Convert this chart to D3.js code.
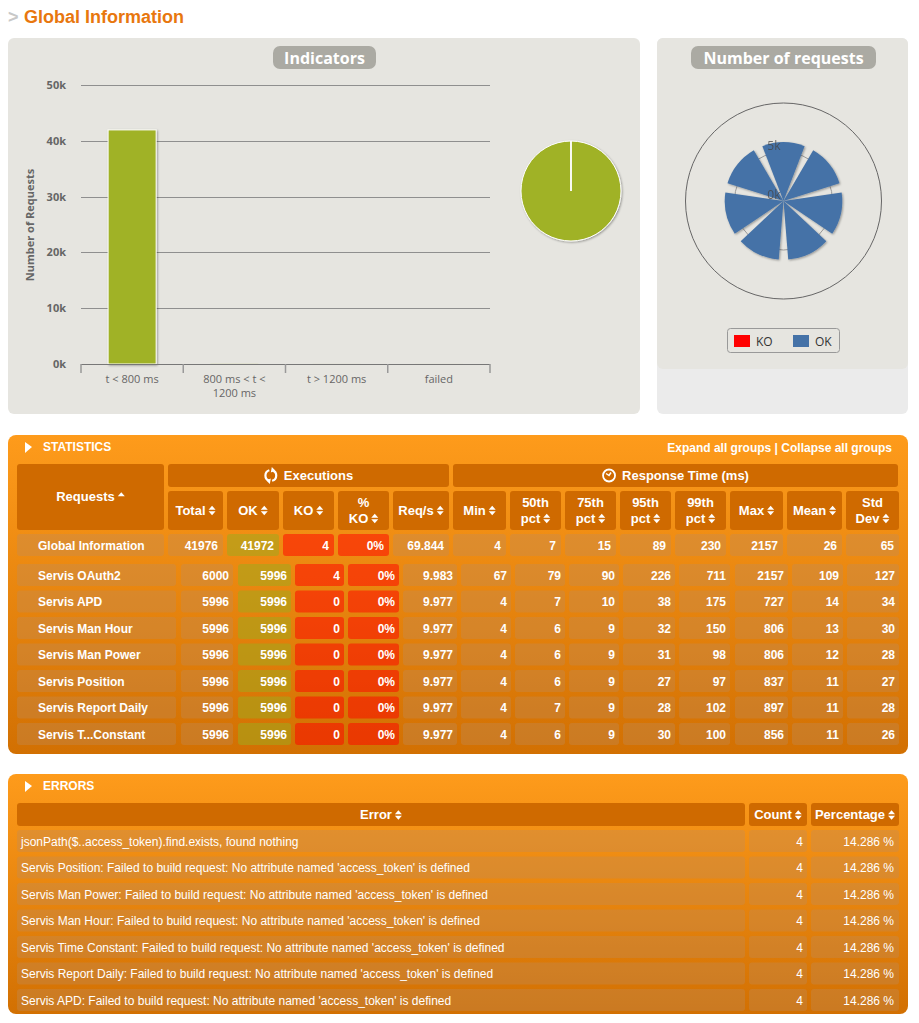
<!DOCTYPE html>
<html>
<head>
<meta charset="utf-8">
<script src="https://cdn.jsdelivr.net/npm/d3@7"></script>
<style>
  body { margin: 0; background: #fff; }
  svg { display: block; }
</style>
</head>
<body>
<div id="page"></div>
<script>
// ---------- data ----------
var responseCategories = ["t < 800 ms", "800 ms < t < 1200 ms", "t > 1200 ms", "failed"];
var responseCounts = [41955, 12, 5, 4];
var pieLabels = ["OK", "KO"];
var pieCounts = [41972, 4];
var barTicks = [0, 10000, 20000, 30000, 40000, 50000];
var polarTicks = [0, 5000];

var requestNames = ["Servis OAuth2", "Servis APD", "Servis Man Hour", "Servis Man Power",
  "Servis Position", "Servis Report Daily", "Servis T...Constant"];
var totals = [6000, 5996, 5996, 5996, 5996, 5996, 5996];
var okCounts = [5996, 5996, 5996, 5996, 5996, 5996, 5996];
var koCounts = [4, 0, 0, 0, 0, 0, 0];
var koPct = ["0%", "0%", "0%", "0%", "0%", "0%", "0%"];
var reqPerSec = ["9.983", "9.977", "9.977", "9.977", "9.977", "9.977", "9.977"];
var minRt = [67, 4, 4, 4, 4, 4, 4];
var p50 = [79, 7, 6, 6, 6, 7, 6];
var p75 = [90, 10, 9, 9, 9, 9, 9];
var p95 = [226, 38, 32, 31, 27, 28, 30];
var p99 = [711, 175, 150, 98, 97, 102, 100];
var maxRt = [2157, 727, 806, 806, 837, 897, 856];
var meanRt = [109, 14, 13, 12, 11, 11, 11];
var stdDev = [127, 34, 30, 28, 27, 28, 26];

var globalName = "Global Information";
var globalRow = [41976, 41972, 4, "0%", "69.844", 4, 7, 15, 89, 230, 2157, 26, 65];

var execHeaders = [["Total"], ["OK"], ["KO"], ["%", "KO"], ["Req/s"]];
var rtHeaders = [["Min"], ["50th", "pct"], ["75th", "pct"], ["95th", "pct"], ["99th", "pct"],
  ["Max"], ["Mean"], ["Std", "Dev"]];

var errorMessages = [
  "jsonPath($..access_token).find.exists, found nothing",
  "Servis Position: Failed to build request: No attribute named 'access_token' is defined",
  "Servis Man Power: Failed to build request: No attribute named 'access_token' is defined",
  "Servis Man Hour: Failed to build request: No attribute named 'access_token' is defined",
  "Servis Time Constant: Failed to build request: No attribute named 'access_token' is defined",
  "Servis Report Daily: Failed to build request: No attribute named 'access_token' is defined",
  "Servis APD: Failed to build request: No attribute named 'access_token' is defined"
];
var errorCounts = [4, 4, 4, 4, 4, 4, 4];
var errorPct = ["14.286 %", "14.286 %", "14.286 %", "14.286 %", "14.286 %", "14.286 %", "14.286 %"];

// ---------- layout ----------
var green = "#a0b228", red = "#ff0000", blue = "#4572a7";
var chartFont = "'Open Sans', 'DejaVu Sans', sans-serif";
var tableFont = "Arial, 'Liberation Sans', Helvetica, sans-serif";

// column edges of the header / global row, and of the request rows
var headCols = [[168,223],[227,279],[283,334],[338,389],[393,449],[453,506],[510,561],
  [565,616],[620,671],[675,726],[730,783],[787,842],[846,899]];
var rowCols = [[181,233],[238,291],[295,344],[348,399],[403,457],[461,511],[515,565],
  [569,619],[623,675],[679,730],[735,788],[792,843],[847,899]];

var svg = d3.select("#page").append("svg")
    .attr("width", 919)
    .attr("height", 1023)
    .style("font-family", tableFont);

var defs = svg.append("defs");
var shadow = defs.append("filter").attr("id", "shadow")
    .attr("x", "-20%").attr("y", "-20%").attr("width", "140%").attr("height", "140%");
shadow.append("feDropShadow").attr("dx", 1).attr("dy", 1).attr("stdDeviation", 1.2)
    .attr("flood-color", "#000").attr("flood-opacity", 0.35);

var grad = defs.append("linearGradient").attr("id", "orange")
    .attr("x1", 0).attr("y1", 0).attr("x2", 0).attr("y2", 1);
grad.append("stop").attr("offset", "0%").attr("stop-color", "#fe9b1b");
grad.append("stop").attr("offset", "100%").attr("stop-color", "#d27002");

// ---------- page title ----------
svg.append("text").attr("x", 8).attr("y", 23)
    .attr("font-size", 18).attr("font-weight", "bold").attr("fill", "#c8c8c8").text(">");
svg.append("text").attr("x", 24).attr("y", 23)
    .attr("font-size", 18).attr("font-weight", "bold").attr("fill", "#e8770e").text("Global Information");

// ---------- chart panels ----------
svg.append("rect").attr("x", 8).attr("y", 38).attr("width", 632).attr("height", 376)
    .attr("rx", 6).attr("fill", "#e6e5e0");
svg.append("rect").attr("x", 657).attr("y", 38).attr("width", 251).attr("height", 376)
    .attr("rx", 6).attr("fill", "#ebebeb");
svg.append("rect").attr("x", 657).attr("y", 38).attr("width", 251).attr("height", 331)
    .attr("rx", 6).attr("fill", "#e6e5e0");

function pill(cx, x0, x1, label) {
  svg.append("rect").attr("x", x0).attr("y", 46).attr("width", x1 - x0).attr("height", 23)
      .attr("rx", 7).attr("fill", "#abaaa3");
  svg.append("text").attr("x", cx).attr("y", 63.5).attr("text-anchor", "middle")
      .attr("font-family", chartFont).attr("font-size", 16).attr("font-weight", "bold")
      .attr("fill", "#fff").text(label);
}
pill(324.5, 273, 376, "Indicators");
pill(783.5, 691, 876, "Number of requests");

// ---------- indicators bar chart ----------
var x = d3.scaleBand().domain(responseCategories).range([81, 490]);
var y = d3.scaleLinear().domain([0, 50000]).range([364, 85]);

var bars = svg.append("g").style("font-family", chartFont);

bars.selectAll(".grid")
  .data(barTicks.filter(function(d) { return d > 0; }))
  .join("line")
    .attr("x1", 81).attr("x2", 490)
    .attr("y1", function(d) { return Math.round(y(d)) + 0.5; })
    .attr("y2", function(d) { return Math.round(y(d)) + 0.5; })
    .attr("stroke", "#8f8f8f").attr("stroke-width", 1);

var yAxis = bars.append("g")
    .attr("transform", "translate(72,0)")
    .call(d3.axisLeft(y).tickValues(barTicks).tickSize(0).tickPadding(6)
      .tickFormat(function(d) { return d / 1000 + "k"; }));
yAxis.select(".domain").remove();
yAxis.selectAll("text").attr("font-family", chartFont).attr("font-size", 11)
    .attr("font-weight", "bold").attr("fill", "#666");

bars.append("text")
    .attr("transform", "translate(34,225) rotate(-90)")
    .attr("text-anchor", "middle").attr("font-size", 11).attr("font-weight", "bold")
    .attr("fill", "#666").text("Number of Requests");

bars.selectAll(".bar")
  .data(responseCategories)
  .join("rect")
    .attr("x", function(d) { return x(d) + x.bandwidth() * 0.265; })
    .attr("width", x.bandwidth() * 0.47)
    .attr("y", function(d, i) { return y(responseCounts[i]); })
    .attr("height", function(d, i) { return y(0) - y(responseCounts[i]); })
    .attr("fill", green)
    .attr("stroke", function(d, i) { return y(0) - y(responseCounts[i]) > 2 ? "#fff" : "none"; })
    .attr("stroke-width", 1)
    .attr("filter", "url(#shadow)");

bars.append("line").attr("x1", 81).attr("x2", 490).attr("y1", 364.5).attr("y2", 364.5)
    .attr("stroke", "#777").attr("stroke-width", 1.2);

var edges = responseCategories.map(function(d) { return x(d); }).concat([x.range()[1]]);
bars.selectAll(".tick-mark")
  .data(edges)
  .join("line")
    .attr("x1", function(d) { return d; }).attr("x2", function(d) { return d; })
    .attr("y1", 364).attr("y2", 373)
    .attr("stroke", "#999").attr("stroke-width", 1.5);

var xAxis = bars.append("g")
    .attr("transform", "translate(0,364)")
    .call(d3.axisBottom(x).tickSize(0).tickPadding(0));
xAxis.select(".domain").remove();
xAxis.selectAll("text")
    .attr("font-family", chartFont).attr("font-size", 11).attr("fill", "#666")
    .attr("y", 19).attr("dy", 0)
    .each(function(d) {
      // wrap long labels on two lines
      var t = d3.select(this), words = d.split(" "), line = [], lineNo = 0;
      t.text(null);
      var ts = t.append("tspan").attr("x", 0).attr("y", 19);
      words.forEach(function(w) {
        line.push(w);
        ts.text(line.join(" "));
        if (ts.node().getComputedTextLength() > x.bandwidth() - 20 && line.length > 1) {
          line.pop();
          ts.text(line.join(" "));
          line = [w];
          lineNo++;
          ts = t.append("tspan").attr("x", 0).attr("y", 19 + lineNo * 14).text(w);
        }
      });
    });

// ---------- indicators pie ----------
var pieArcs = d3.pie().sort(null).value(function(d) { return d; })(pieCounts);
var arc = d3.arc().innerRadius(0).outerRadius(50);
svg.append("g")
    .attr("transform", "translate(571,191)")
    .attr("filter", "url(#shadow)")
  .selectAll("path")
  .data(pieArcs)
  .join("path")
    .attr("d", arc)
    .attr("fill", function(d, i) { return i === 0 ? green : red; })
    .attr("stroke", "#fff").attr("stroke-width", 1);

// ---------- number of requests (polar) ----------
var pcx = 783.5, pcy = 201;
var r = d3.scaleLinear().domain([0, 10000]).range([0, 98]);
var step = 2 * Math.PI / requestNames.length;
var ang = d3.scaleBand().domain(requestNames)
    .range([-step / 2, 2 * Math.PI - step / 2])
    .paddingInner(0.18).paddingOuter(0.09);

var polar = svg.append("g").attr("transform", "translate(" + pcx + "," + pcy + ")")
    .style("font-family", chartFont);

polar.append("circle").attr("r", r(10000)).attr("fill", "none")
    .attr("stroke", "#666").attr("stroke-width", 1);
polar.append("circle").attr("r", r(5000)).attr("fill", "none")
    .attr("stroke", "#999").attr("stroke-width", 1);

var wedge = d3.arc().innerRadius(function(d) { return r(d.y0); })
    .outerRadius(function(d) { return r(d.y1); })
    .startAngle(function(d) { return ang(d.name); })
    .endAngle(function(d) { return ang(d.name) + ang.bandwidth(); });

var okWedges = requestNames.map(function(n, i) { return {name: n, y0: 0, y1: okCounts[i]}; });
var koWedges = requestNames.map(function(n, i) {
  return {name: n, y0: okCounts[i], y1: okCounts[i] + koCounts[i]};
});

polar.append("g").attr("filter", "url(#shadow)")
  .selectAll("path")
  .data(okWedges)
  .join("path")
    .attr("d", wedge)
    .attr("fill", blue);
polar.append("g")
  .selectAll("path")
  .data(koWedges.filter(function(d) { return d.y1 > d.y0; }))
  .join("path")
    .attr("d", wedge)
    .attr("fill", red);

polar.selectAll(".rlabel")
  .data(polarTicks)
  .join("text")
    .attr("x", -3).attr("y", function(d) { return -r(d) - 2; })
    .attr("text-anchor", "end").attr("font-size", 12)
    .attr("fill", "#444").attr("opacity", 0.75)
    .text(function(d) { return d / 1000 + "k"; });

// legend
var legend = svg.append("g").style("font-family", chartFont);
legend.append("rect").attr("x", 727.5).attr("y", 328.5).attr("width", 112).attr("height", 24)
    .attr("rx", 3).attr("fill", "none").attr("stroke", "#999");
var legendItems = [{label: "KO", color: red, x: 734}, {label: "OK", color: blue, x: 793}];
legend.selectAll(".sw").data(legendItems).join("rect")
    .attr("x", function(d) { return d.x; }).attr("y", 335).attr("width", 16).attr("height", 12)
    .attr("fill", function(d) { return d.color; });
legend.selectAll(".lt").data(legendItems).join("text")
    .attr("x", function(d) { return d.x + 22; }).attr("y", 345.5)
    .attr("font-size", 12).attr("fill", "#333")
    .text(function(d) { return d.label; });

// ---------- table helpers ----------
function sortIcon(g, cx, cy, upOnly) {
  var p = "M" + (cx - 3.5) + "," + (cy - 0.8) + "L" + (cx + 3.5) + "," + (cy - 0.8) + "L" + cx + "," + (cy - 4.8) + "Z";
  if (!upOnly) p += "M" + (cx - 3.5) + "," + (cy + 0.8) + "L" + (cx + 3.5) + "," + (cy + 0.8) + "L" + cx + "," + (cy + 4.8) + "Z";
  g.append("path").attr("d", p).attr("fill", "#fff");
}

// centred header label followed by a sort arrow
function headLabel(g, cx, baseline, label, size, upOnly) {
  var t = g.append("text").attr("y", baseline).attr("font-size", size)
      .attr("font-weight", "bold").attr("fill", "#fff").text(label);
  var w = t.node().getComputedTextLength();
  var total = w + 3 + 7;
  t.attr("x", cx - total / 2);
  sortIcon(g, cx - total / 2 + w + 3 + 3.5, baseline - 4, upOnly);
}

function cellFill(col) {
  if (col === 1) return "rgba(160,170,30,0.55)";
  if (col === 2 || col === 3) return "rgba(255,0,0,0.5)";
  return "rgba(190,140,95,0.35)";
}

function panel(y0, h, title) {
  svg.append("rect").attr("x", 8).attr("y", y0).attr("width", 900).attr("height", h)
      .attr("rx", 8).attr("fill", "url(#orange)");
  svg.append("path")
      .attr("d", "M25," + (y0 + 7) + "L32," + (y0 + 12) + "L25," + (y0 + 18) + "Z")
      .attr("fill", "#fff");
  svg.append("text").attr("x", 43).attr("y", y0 + 16).attr("font-size", 12)
      .attr("font-weight", "bold").attr("fill", "#fff").text(title);
}

// ---------- statistics ----------
panel(435, 319, "STATISTICS");
svg.append("text").attr("x", 892).attr("y", 452).attr("text-anchor", "end")
    .attr("font-size", 12).attr("font-weight", "bold").attr("fill", "#fff")
    .text("Expand all groups | Collapse all groups");

var headFill = "#cf6a00";
var stats = svg.append("g");
stats.append("rect").attr("x", 17).attr("y", 464).attr("width", 147).attr("height", 66)
    .attr("rx", 3).attr("fill", headFill);
headLabel(stats, 90.5, 501, "Requests", 13, true);

var groups = [
  {label: "Executions", x0: 168, x1: 449, icon: "refresh"},
  {label: "Response Time (ms)", x0: 453, x1: 898, icon: "clock"}
];
groups.forEach(function(gp) {
  stats.append("rect").attr("x", gp.x0).attr("y", 464).attr("width", gp.x1 - gp.x0)
      .attr("height", 23).attr("rx", 3).attr("fill", headFill);
  var t = stats.append("text").attr("y", 480).attr("font-size", 13).attr("font-weight", "bold")
      .attr("fill", "#fff").text(gp.label);
  var w = t.node().getComputedTextLength();
  var cx = (gp.x0 + gp.x1) / 2, total = w + 20;
  var ix = cx - total / 2 + 7, iy = 475.5;
  t.attr("x", cx - total / 2 + 20);
  if (gp.icon === "clock") {
    stats.append("circle").attr("cx", ix).attr("cy", iy).attr("r", 6)
        .attr("fill", "none").attr("stroke", "#fff").attr("stroke-width", 1.8);
    stats.append("path").attr("d", "M" + (ix - 3) + "," + (iy - 2) + "L" + ix + "," + iy + "L" + (ix + 2) + "," + (iy - 3))
        .attr("fill", "none").attr("stroke", "#fff").attr("stroke-width", 1.5);
  } else {
    var ra = d3.arc().innerRadius(4.3).outerRadius(6.5);
    stats.append("path").attr("transform", "translate(" + ix + "," + iy + ")")
        .attr("d", ra({startAngle: 0.3, endAngle: 2.9})).attr("fill", "#fff");
    stats.append("path").attr("transform", "translate(" + ix + "," + iy + ")")
        .attr("d", ra({startAngle: 3.45, endAngle: 6.0})).attr("fill", "#fff");
    stats.append("path").attr("transform", "translate(" + ix + "," + iy + ")")
        .attr("d", "M1,-8.5L4.5,-5L0,-3Z M-1,8.5L-4.5,5L0,3Z").attr("fill", "#fff");
  }
});

execHeaders.concat(rtHeaders).forEach(function(lines, i) {
  var c = headCols[i], cx = (c[0] + c[1]) / 2;
  stats.append("rect").attr("x", c[0]).attr("y", 491).attr("width", c[1] - c[0])
      .attr("height", 39).attr("rx", 3).attr("fill", headFill);
  if (lines.length === 1) {
    headLabel(stats, cx, 514.5, lines[0], 13);
  } else {
    stats.append("text").attr("x", cx).attr("y", 507).attr("text-anchor", "middle")
        .attr("font-size", 13).attr("font-weight", "bold").attr("fill", "#fff").text(lines[0]);
    headLabel(stats, cx, 522.5, lines[1], 13);
  }
});

// global row
stats.append("rect").attr("x", 17).attr("y", 534).attr("width", 147).attr("height", 22)
    .attr("rx", 3).attr("fill", cellFill(-1));
stats.append("text").attr("x", 38).attr("y", 549.5).attr("font-size", 12)
    .attr("font-weight", "bold").attr("fill", "#fff").text(globalName);
globalRow.forEach(function(v, i) {
  var c = headCols[i];
  stats.append("rect").attr("x", c[0]).attr("y", 534).attr("width", c[1] - c[0])
      .attr("height", 22).attr("rx", 3).attr("fill", cellFill(i));
  stats.append("text").attr("x", c[1] - 5).attr("y", 549.5).attr("text-anchor", "end")
      .attr("font-size", 12).attr("font-weight", "bold").attr("fill", "#fff").text(v);
});

// request rows
var rowY = d3.scaleBand().domain(requestNames).range([564, 745]).paddingInner(0.17);
var columns = [totals, okCounts, koCounts, koPct, reqPerSec, minRt, p50, p75, p95, p99, maxRt, meanRt, stdDev];

var rows = stats.selectAll(".req")
  .data(requestNames)
  .join("g")
    .attr("transform", function(d) { return "translate(0," + rowY(d) + ")"; });
rows.append("rect").attr("x", 17).attr("width", 159).attr("height", rowY.bandwidth())
    .attr("rx", 3).attr("fill", cellFill(-1));
rows.append("text").attr("x", 38).attr("y", 15.5).attr("font-size", 12)
    .attr("font-weight", "bold").attr("fill", "#fff").text(function(d) { return d; });
columns.forEach(function(col, ci) {
  var c = rowCols[ci];
  rows.append("rect").attr("x", c[0]).attr("width", c[1] - c[0]).attr("height", rowY.bandwidth())
      .attr("rx", 3).attr("fill", cellFill(ci));
  rows.append("text").attr("x", c[1] - 4).attr("y", 15.5).attr("text-anchor", "end")
      .attr("font-size", 12).attr("font-weight", "bold").attr("fill", "#fff")
      .text(function(d, i) { return col[i]; });
});

// ---------- errors ----------
panel(774, 240, "ERRORS");
var errs = svg.append("g");
var errCols = [[17, 745], [749, 807], [811, 899]];
["Error", "Count", "Percentage"].forEach(function(h, i) {
  var c = errCols[i];
  errs.append("rect").attr("x", c[0]).attr("y", 803).attr("width", c[1] - c[0]).attr("height", 23)
      .attr("rx", 3).attr("fill", headFill);
  headLabel(errs, (c[0] + c[1]) / 2, 819, h, 13);
});

var errY = d3.scaleBand().domain(d3.range(errorMessages.length)).range([830, 1011]).paddingInner(0.17);
var erows = errs.selectAll(".err")
  .data(errorMessages)
  .join("g")
    .attr("transform", function(d, i) { return "translate(0," + errY(i) + ")"; });
errCols.forEach(function(c) {
  erows.append("rect").attr("x", c[0]).attr("width", c[1] - c[0]).attr("height", errY.bandwidth())
      .attr("rx", 3).attr("fill", cellFill(-1));
});
erows.append("text").attr("x", 21).attr("y", 15.5).attr("font-size", 12).attr("fill", "#fff")
    .text(function(d) { return d; });
erows.append("text").attr("x", 803).attr("y", 15.5).attr("text-anchor", "end")
    .attr("font-size", 12).attr("fill", "#fff")
    .text(function(d, i) { return errorCounts[i]; });
erows.append("text").attr("x", 894).attr("y", 15.5).attr("text-anchor", "end")
    .attr("font-size", 12).attr("fill", "#fff")
    .text(function(d, i) { return errorPct[i]; });
</script>
</body>
</html>
